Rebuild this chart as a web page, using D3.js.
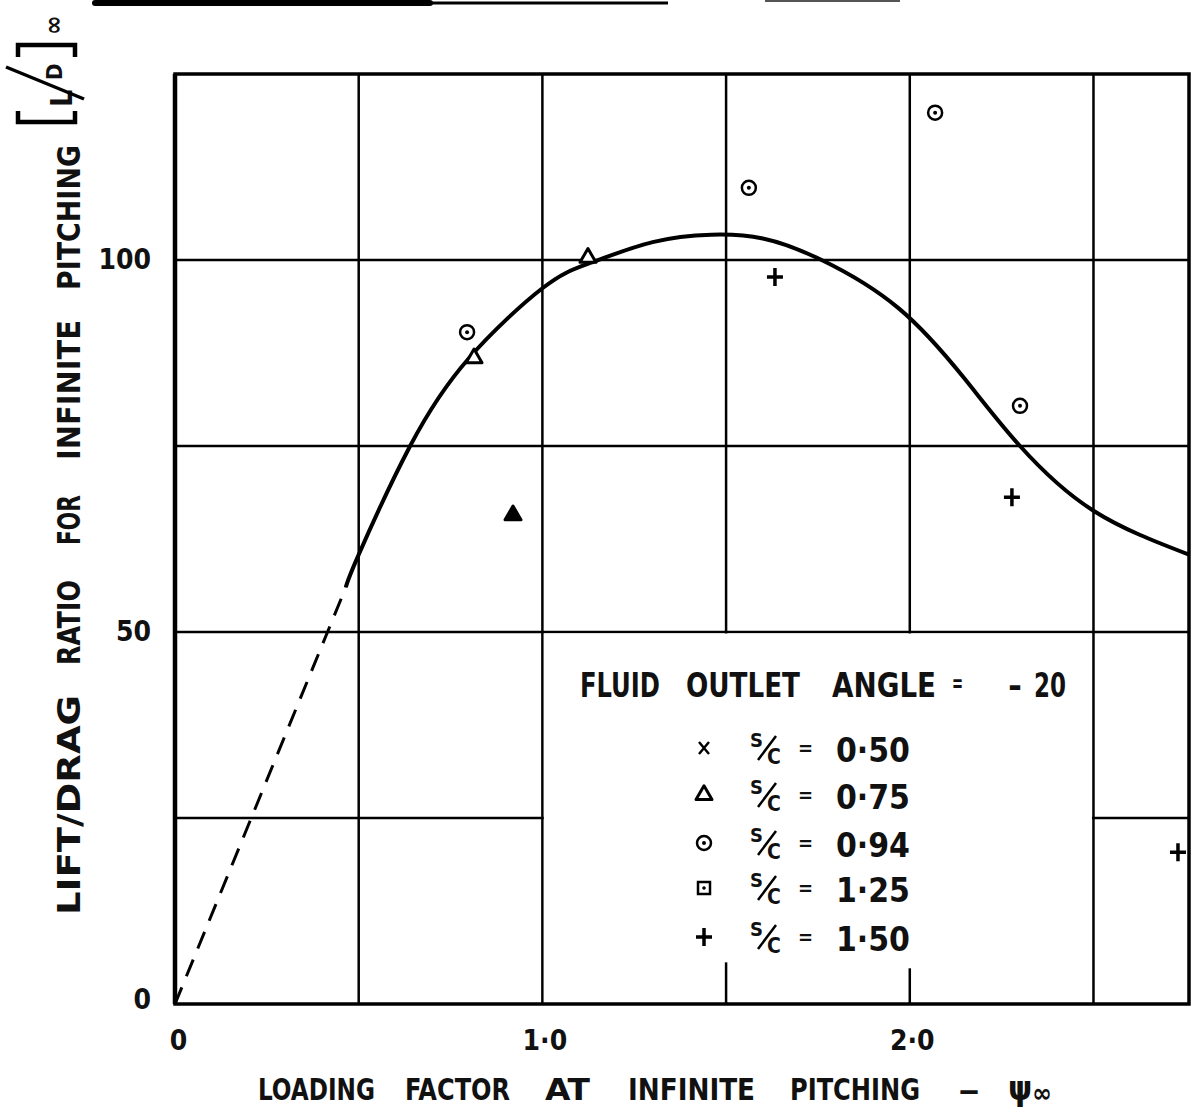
<!DOCTYPE html>
<html>
<head>
<meta charset="utf-8">
<script src="https://cdn.jsdelivr.net/npm/d3@7"></script>
<style>
  body { margin: 0; background: #fff; }
  svg { display: block; }
  text { font-family: "DejaVu Sans Condensed", "DejaVu Sans", sans-serif; font-weight: bold; fill: #111; }
</style>
</head>
<body>
<div id="chart"></div>
<script>
// data
var xTicks = [0, 1, 2];
var xTickLabels = ["0", "1·0", "2·0"];
var yTicks = [0, 50, 100];
var xGrid = [0.5, 1, 1.5, 2, 2.5];
var yGrid = [25, 50, 75, 100];

// faired curve (solid) and its dashed extension to origin
var curveX = [0.465, 0.5, 0.64, 0.8, 1.0, 1.13, 1.3, 1.46, 1.6, 1.76, 1.97, 2.15, 2.30, 2.5, 2.76];
var curveY = [56, 60.4, 75, 86.8, 96.2, 99.6, 102.4, 103.4, 102.9, 100, 93.5, 84, 75, 66.3, 60.4];
var dashX = [0, 0.465];
var dashY = [0, 56];

// s/c = 0.75 (triangles)
var triX = [0.814, 0.92, 1.124];
var triY = [86.8, 65.7, 100.3];
// s/c = 0.94 (circles)
var circX = [0.795, 1.562, 2.069, 2.30];
var circY = [90.3, 109.7, 119.8, 80.4];
// s/c = 1.50 (plus)
var plusX = [1.633, 2.278, 2.73];
var plusY = [97.7, 68.1, 20.4];

var legendTitle = ["FLUID", "OUTLET", "ANGLE", "=", "-", "20"];
var legendSymbols = ["x", "triangle", "circle", "square", "plus"];
var legendValues = ["0·50", "0·75", "0·94", "1·25", "1·50"];

var xLabelWords = ["LOADING", "FACTOR", "AT", "INFINITE", "PITCHING", "–"];
var yLabelWords = ["LIFT/DRAG", "RATIO", "FOR", "INFINITE", "PITCHING"];

var width = 1193, height = 1116;

var svg = d3.select("#chart").append("svg")
    .attr("width", width)
    .attr("height", height);

var x = d3.scaleLinear().domain([0, 2.76]).range([175, 1189]);
var y = d3.scaleLinear().domain([0, 125]).range([1004, 74]);

// title underline fragments at the top edge (cropped)
svg.append("line").attr("x1", 95).attr("x2", 430).attr("y1", 3).attr("y2", 3)
   .attr("stroke", "#000").attr("stroke-width", 6).attr("stroke-linecap", "round");
svg.append("line").attr("x1", 430).attr("x2", 668).attr("y1", 3).attr("y2", 3)
   .attr("stroke", "#000").attr("stroke-width", 3);
svg.append("line").attr("x1", 765).attr("x2", 900).attr("y1", 1).attr("y2", 1)
   .attr("stroke", "#555").attr("stroke-width", 2);

// grid
var grid = svg.append("g").attr("stroke", "#000").attr("stroke-width", 2.5);
grid.selectAll(".vg").data(xGrid).enter().append("line")
    .attr("x1", d => x(d)).attr("x2", d => x(d))
    .attr("y1", y(125)).attr("y2", y(0));
grid.selectAll(".hg").data(yGrid).enter().append("line")
    .attr("x1", x(0)).attr("x2", x(2.76))
    .attr("y1", d => y(d)).attr("y2", d => y(d));

// legend panel blanks the grid inside [1.0, 2.5] x [0, 50]
svg.append("rect")
    .attr("x", x(1) + 1.5).attr("y", y(50) + 1.5)
    .attr("width", x(2.5) - x(1) - 3).attr("height", y(0) - y(50) - 3)
    .attr("fill", "#fff");
// short stubs left at 1.5 and 2.0
svg.selectAll(".stub").data([1.5, 2]).enter().append("line")
    .attr("x1", d => x(d)).attr("x2", d => x(d))
    .attr("y1", (d, i) => y(i === 0 ? 5.6 : 4.8)).attr("y2", y(0))
    .attr("stroke", "#000").attr("stroke-width", 2.5);

// frame
svg.append("rect")
    .attr("x", x(0)).attr("y", y(125))
    .attr("width", x(2.76) - x(0)).attr("height", y(0) - y(125))
    .attr("fill", "none").attr("stroke", "#000").attr("stroke-width", 3.5);
svg.append("line").attr("x1", x(0)).attr("x2", x(0)).attr("y1", y(125)).attr("y2", y(0))
   .attr("stroke", "#000").attr("stroke-width", 4.5);

// axes (labels only)
var xAxis = d3.axisBottom(x).tickValues(xTicks)
    .tickFormat((d, i) => xTickLabels[i]).tickSize(0).tickPadding(26);
var gx = svg.append("g").attr("transform", "translate(0," + y(0) + ")").call(xAxis);
gx.select(".domain").remove();
gx.selectAll("text").attr("font-size", 28).attr("font-family", null).attr("font-weight", 600)
  .attr("dx", (d, i) => i === 0 ? 3 : 2);

var yAxis = d3.axisLeft(y).tickValues(yTicks).tickSize(0).tickPadding(24);
var gy = svg.append("g").attr("transform", "translate(" + x(0) + ",0)").call(yAxis);
gy.select(".domain").remove();
gy.selectAll("text").attr("font-size", 28).attr("font-family", null).attr("font-weight", 600)
  .attr("dy", (d) => d === 0 ? "0.15em" : "0.32em");

// curve
var line = d3.line().x(d => x(d[0])).y(d => y(d[1])).curve(d3.curveNatural);
svg.append("path")
    .datum(d3.zip(curveX, curveY))
    .attr("d", line)
    .attr("fill", "none").attr("stroke", "#000").attr("stroke-width", 4);
svg.append("path")
    .datum(d3.zip(dashX, dashY))
    .attr("d", d3.line().x(d => x(d[0])).y(d => y(d[1])))
    .attr("fill", "none").attr("stroke", "#000").attr("stroke-width", 3)
    .attr("stroke-dasharray", "18,12");

// markers
function drawMarker(g, kind, cx, cy, filled) {
  if (kind === "circle") {
    g.append("circle").attr("cx", cx).attr("cy", cy).attr("r", 7)
     .attr("fill", "#fff").attr("stroke", "#000").attr("stroke-width", 2.5);
    g.append("circle").attr("cx", cx).attr("cy", cy).attr("r", 2).attr("fill", "#000");
  } else if (kind === "triangle") {
    g.append("path").attr("transform", "translate(" + cx + "," + cy + ")")
     .attr("d", d3.symbol(d3.symbolTriangle, 110)())
     .attr("fill", filled ? "#000" : "#fff").attr("stroke", "#000").attr("stroke-width", 3)
     .attr("stroke-linejoin", "round");
  } else if (kind === "plus") {
    g.append("path").attr("d", "M" + (cx - 8) + "," + cy + "H" + (cx + 8) + "M" + cx + "," + (cy - 9) + "V" + (cy + 9))
     .attr("stroke", "#000").attr("stroke-width", 3.5);
  } else if (kind === "square") {
    g.append("rect").attr("x", cx - 6).attr("y", cy - 6).attr("width", 12).attr("height", 12)
     .attr("fill", "#fff").attr("stroke", "#000").attr("stroke-width", 2.5);
    g.append("circle").attr("cx", cx).attr("cy", cy).attr("r", 1.8).attr("fill", "#000");
  } else if (kind === "x") {
    g.append("path").attr("d", "M" + (cx - 5) + "," + (cy - 6) + "L" + (cx + 5) + "," + (cy + 6) +
                              "M" + (cx + 5) + "," + (cy - 6) + "L" + (cx - 5) + "," + (cy + 6))
     .attr("stroke", "#000").attr("stroke-width", 2.5);
  }
}

var marks = svg.append("g");
triX.forEach((d, i) => drawMarker(marks, "triangle", x(d), y(triY[i]), i === 1));
circX.forEach((d, i) => drawMarker(marks, "circle", x(d), y(circY[i])));
plusX.forEach((d, i) => drawMarker(marks, "plus", x(d), y(plusY[i])));

// legend
var leg = svg.append("g");
var titleX = [580, 686, 832, 952, 1008, 1034];
var titleW = [80, 114, 104, 11, 14, 32];
legendTitle.forEach(function(t, i) {
  leg.append("text").attr("x", titleX[i]).attr("y", i === 3 ? 692 : 697)
     .attr("font-size", i === 3 ? 24 : 34).attr("font-weight", 600)
     .attr("textLength", titleW[i]).attr("lengthAdjust", "spacingAndGlyphs").text(t);
});
var rowY = [748, 795, 843, 888, 937];
legendSymbols.forEach(function(s, i) {
  var cy = rowY[i];
  drawMarker(leg, s, 704, cy, false);
  leg.append("text").attr("x", 750).attr("y", cy - 1).attr("font-size", 20).attr("font-weight", 600).text("S");
  leg.append("line").attr("x1", 758).attr("y1", cy + 12).attr("x2", 776).attr("y2", cy - 12)
     .attr("stroke", "#000").attr("stroke-width", 2.5);
  leg.append("text").attr("x", 767).attr("y", cy + 16).attr("font-size", 21).attr("font-weight", 600).text("C");
  leg.append("text").attr("x", 798).attr("y", cy + 7).attr("font-size", 20).attr("font-weight", 600).text("=");
  leg.append("text").attr("x", 836).attr("y", cy + 14).attr("font-size", 34).attr("font-weight", 600)
     .attr("textLength", 74).attr("lengthAdjust", "spacingAndGlyphs").text(legendValues[i]);
});

// x axis label
var xlX = [258, 405, 545, 628, 790, 958];
var xlW = [117, 105, 45, 127, 130, 22];
xLabelWords.forEach(function(t, i) {
  svg.append("text").attr("x", xlX[i]).attr("y", 1100).attr("font-size", 31).attr("font-weight", 600)
     .attr("textLength", xlW[i]).attr("lengthAdjust", "spacingAndGlyphs").text(t);
});
var psi = svg.append("text").attr("x", 1008).attr("y", 1100).attr("font-size", 34).attr("font-weight", 600);
psi.append("tspan").text("ψ");
psi.append("tspan").attr("font-size", 26).attr("dy", 2).text("∞");

// y axis label, rotated, reading upward
var ylStart = [915, 665, 545, 460, 290];
var ylEnd = [695, 580, 495, 320, 145];
var gyl = svg.append("g");
yLabelWords.forEach(function(t, i) {
  gyl.append("text")
     .attr("transform", "translate(80," + ylStart[i] + ") rotate(-90)")
     .attr("font-size", 32).attr("font-weight", 600)
     .attr("textLength", ylStart[i] - ylEnd[i]).attr("lengthAdjust", "spacingAndGlyphs")
     .text(t);
});
// [L/D] with infinity, same rotated frame
var br = svg.append("g").attr("transform", "translate(78,125) rotate(-90)");
br.append("path").attr("d", "M14,-60 H3 V-3 H14")
  .attr("fill", "none").attr("stroke", "#000").attr("stroke-width", 4.5);
br.append("text").attr("x", 18).attr("y", -6).attr("font-size", 30).attr("font-weight", 600).text("L");
br.append("line").attr("x1", 26).attr("y1", 6).attr("x2", 58).attr("y2", -72)
  .attr("stroke", "#000").attr("stroke-width", 3.5);
br.append("text").attr("x", 45).attr("y", -16).attr("font-size", 22).attr("font-weight", 600).text("D");
br.append("path").attr("d", "M68,-60 H80 V-3 H68")
  .attr("fill", "none").attr("stroke", "#000").attr("stroke-width", 4.5);
br.append("text").attr("x", 90).attr("y", -16).attr("font-size", 26).attr("font-weight", 600).text("∞");
</script>
</body>
</html>
